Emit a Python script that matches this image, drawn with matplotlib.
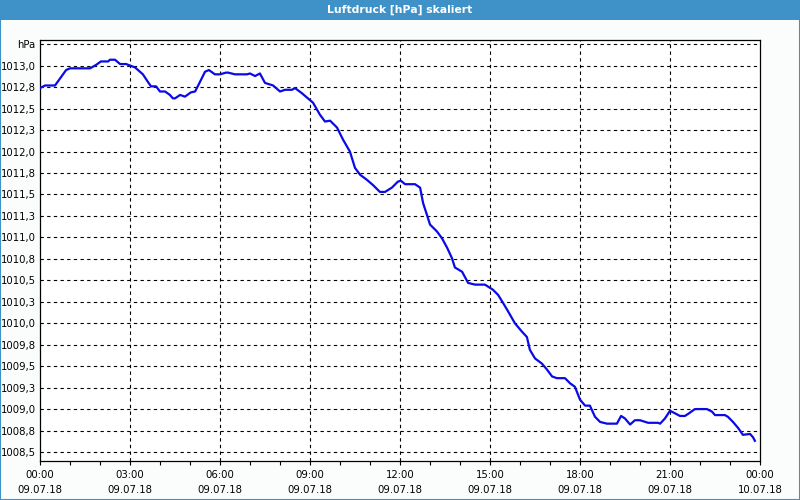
import matplotlib
matplotlib.use("Agg")
import matplotlib.pyplot as plt
from matplotlib.patches import Rectangle
from matplotlib.ticker import MultipleLocator

# ---- data (hours since 09.07.18 00:00, pressure in hPa) ----
hours = [0.00, 0.17, 0.50, 0.87, 1.00, 1.67, 1.87, 2.03, 2.27, 2.33, 2.50, 2.67, 2.87,
         3.17, 3.43, 3.60, 3.70, 3.87, 4.00, 4.17, 4.33, 4.43, 4.50, 4.67, 4.83, 5.03,
         5.17, 5.33, 5.50, 5.63, 5.83, 6.00, 6.20, 6.27, 6.50, 6.90, 7.00, 7.17, 7.33,
         7.50, 7.77, 8.00, 8.17, 8.40, 8.50, 8.73, 8.93, 9.10, 9.33, 9.50, 9.67, 9.90,
         10.10, 10.33, 10.50, 10.67, 10.90, 11.10, 11.33, 11.50, 11.73, 11.93, 12.03,
         12.17, 12.50, 12.67, 12.77, 12.90, 13.00, 13.23, 13.40, 13.57, 13.73, 13.83,
         14.07, 14.27, 14.50, 14.83, 15.10, 15.27, 15.43, 15.60, 15.83, 16.07, 16.23,
         16.33, 16.50, 16.73, 16.90, 17.07, 17.23, 17.50, 17.67, 17.83, 18.00, 18.17,
         18.33, 18.50, 18.67, 18.90, 19.23, 19.37, 19.50, 19.67, 19.83, 20.00, 20.27,
         20.60, 20.67, 20.83, 21.00, 21.17, 21.33, 21.50, 21.63, 21.83, 22.23, 22.40,
         22.50, 22.83, 22.93, 23.10, 23.27, 23.43, 23.67, 23.77, 23.83]
pressure = [1012.74, 1012.77, 1012.77, 1012.95, 1012.97, 1012.97, 1013.01, 1013.05,
            1013.05, 1013.07, 1013.07, 1013.02, 1013.02, 1012.98, 1012.90, 1012.81,
            1012.76, 1012.76, 1012.70, 1012.70, 1012.66, 1012.62, 1012.62, 1012.66,
            1012.64, 1012.69, 1012.70, 1012.81, 1012.93, 1012.95, 1012.90, 1012.90,
            1012.92, 1012.92, 1012.90, 1012.90, 1012.91, 1012.88, 1012.91, 1012.80,
            1012.77, 1012.70, 1012.72, 1012.72, 1012.74, 1012.68, 1012.62, 1012.57,
            1012.43, 1012.35, 1012.36, 1012.28, 1012.14, 1012.00, 1011.81, 1011.73,
            1011.67, 1011.61, 1011.53, 1011.53, 1011.58, 1011.65, 1011.66, 1011.62,
            1011.62, 1011.58, 1011.40, 1011.26, 1011.15, 1011.07, 1010.99, 1010.88,
            1010.76, 1010.65, 1010.60, 1010.47, 1010.45, 1010.45, 1010.39, 1010.33,
            1010.24, 1010.14, 1010.00, 1009.90, 1009.84, 1009.69, 1009.59, 1009.53,
            1009.46, 1009.38, 1009.36, 1009.36, 1009.30, 1009.26, 1009.11, 1009.04,
            1009.04, 1008.91, 1008.85, 1008.83, 1008.83, 1008.92, 1008.89, 1008.82,
            1008.87, 1008.87, 1008.84, 1008.84, 1008.83, 1008.89, 1008.98, 1008.95,
            1008.92, 1008.92, 1008.95, 1009.00, 1009.00, 1008.97, 1008.93, 1008.93,
            1008.91, 1008.85, 1008.78, 1008.70, 1008.71, 1008.67, 1008.63]

y_ticks = [1008.5, 1008.75, 1009.0, 1009.25, 1009.5, 1009.75, 1010.0, 1010.25, 1010.5,
           1010.75, 1011.0, 1011.25, 1011.5, 1011.75, 1012.0, 1012.25, 1012.5, 1012.75,
           1013.0, 1013.25]
y_labels = ["1008,5", "1008,8", "1009,0", "1009,3", "1009,5", "1009,8", "1010,0", "1010,3",
            "1010,5", "1010,8", "1011,0", "1011,3", "1011,5", "1011,8", "1012,0", "1012,3",
            "1012,5", "1012,8", "1013,0", "hPa"]
x_ticks = [0, 3, 6, 9, 12, 15, 18, 21, 24]
x_labels = ["00:00\n09.07.18", "03:00\n09.07.18", "06:00\n09.07.18", "09:00\n09.07.18",
            "12:00\n09.07.18", "15:00\n09.07.18", "18:00\n09.07.18", "21:00\n09.07.18",
            "00:00\n10.07.18"]
title = "Luftdruck [hPa] skaliert"

plt.rcParams['font.family'] = ['DejaVu Sans']

BLUE_BAR = "#3f92c8"
fig = plt.figure(figsize=(8, 5), dpi=100, facecolor="#fbfdfc")

# title bar and frame
fig.patches.append(Rectangle((0, 0.96), 1, 0.04, transform=fig.transFigure,
                             facecolor=BLUE_BAR, edgecolor="none", zorder=0))
fig.patches.append(Rectangle((0.0006, 0.001), 0.9988, 0.998, transform=fig.transFigure,
                             facecolor="none", edgecolor=BLUE_BAR, linewidth=1.5, zorder=0))
fig.text(0.5, 0.981, title, color="white", ha="center", va="center",
         fontsize=7.8, fontweight="bold")

ax = fig.add_axes([0.05, 0.078, 0.90, 0.842])
ax.set_facecolor("white")
ax.plot(hours, pressure, color="#0a0ae6", linewidth=1.6, zorder=3)

ax.set_xlim(0, 24)
ax.set_ylim(1008.395, 1013.30)

ax.set_yticks(y_ticks)
ax.set_yticklabels(y_labels)
ax.set_xticks(x_ticks)
ax.set_xticklabels(x_labels, linespacing=1.65)
ax.xaxis.set_minor_locator(MultipleLocator(1))

ax.tick_params(axis="y", length=0, pad=3, labelsize=7.3, colors="black")
ax.tick_params(axis="x", which="both", length=3, width=0.8, direction="out",
               pad=3.5, labelsize=7.3)

ax.grid(True, axis="y", color="black", linestyle=(0, (3, 3)), linewidth=0.8, zorder=1)
for t in x_ticks[1:-1]:
    ax.axvline(t, color="black", linestyle=(0, (3, 3)), linewidth=0.8, zorder=1)

for s in ax.spines.values():
    s.set_color("black")
    s.set_linewidth(0.9)

fig.savefig("out.png", dpi=100, facecolor=fig.get_facecolor())
